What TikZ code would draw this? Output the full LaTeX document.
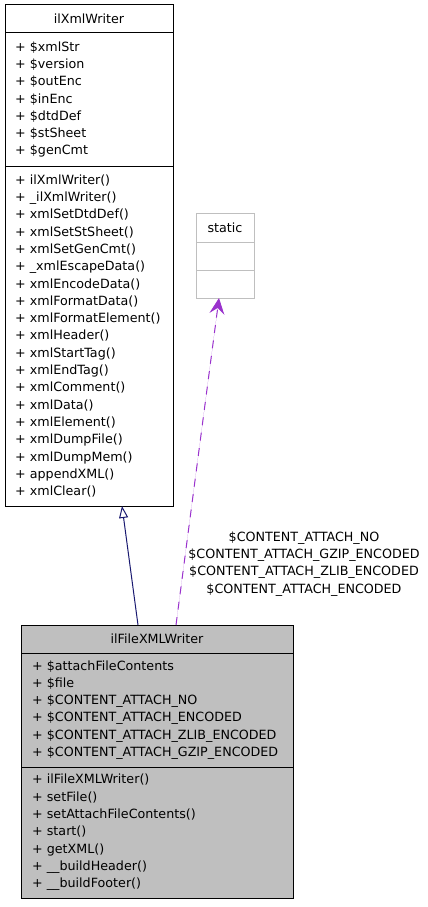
\documentclass[tikz,border=0pt]{standalone}
\usepackage{fontspec}
\setmainfont{DejaVu Sans}
\usepackage{tikz}
\usetikzlibrary{arrows.meta, positioning}
\usepackage{xcolor}
\definecolor{edgeblue}{HTML}{191970}
\definecolor{edgepurple}{HTML}{9A32CD}
\definecolor{classgray}{HTML}{BFBFBF}
\hyphenpenalty=10000
\exhyphenpenalty=10000

\begin{document}
\begin{tikzpicture}[x=1pt, y=-1pt,
    every node/.style={font=\fontsize{12.7}{17.3}\selectfont, inner sep=0pt, outer sep=0pt},
    cls/.style={draw=black, line width=1pt, fill=white},
    members/.style={cls, align=left, text width=#1},
    faint/.style={draw=classgray, line width=1pt, fill=white},
    inherit/.style={draw=edgeblue, line width=1pt, -{Triangle[open, length=12pt, width=9pt, fill=white]}},
    usage/.style={draw=edgepurple, line width=1pt, dash pattern=on 8pt off 7.5pt, -{Stealth[length=16pt, width=15pt, inset=6pt]}, fill=edgepurple}]
        \useasboundingbox (0,0) rectangle (428,907);
        % Base class
        \node[cls, minimum width=168, minimum height=28] (writer) at (89,19) {ilXmlWriter};
        \node[members=148pt, inner xsep=10pt, minimum height=133, below=0pt of writer] (writerattr) {+ \$xmlStr\\+ \$version\\+ \$outEnc\\+ \$inEnc\\+ \$dtdDef\\+ \$stSheet\\+ \$genCmt};
        \node[members=148pt, inner xsep=10pt, minimum height=340, below=0pt of writerattr] (writerops) {+ ilXmlWriter()\\+ \_ilXmlWriter()\\+ xmlSetDtdDef()\\+ xmlSetStSheet()\\+ xmlSetGenCmt()\\+ \_xmlEscapeData()\\+ xmlEncodeData()\\+ xmlFormatData()\\+ xmlFormatElement()\\+ xmlHeader()\\+ xmlStartTag()\\+ xmlEndTag()\\+ xmlComment()\\+ xmlData()\\+ xmlElement()\\+ xmlDumpFile()\\+ xmlDumpMem()\\+ appendXML()\\+ xmlClear()};
        % static box
        \node[faint, minimum width=58, minimum height=29] (static) at (225,227.5) {static};
        \node[faint, minimum width=58, minimum height=28, below=0pt of static] (staticattr) {};
        \node[faint, minimum width=58, minimum height=28, below=0pt of staticattr] (staticops) {};
        % Derived class
        \node[cls, fill=classgray, minimum width=272, minimum height=28] (filewriter) at (157,639) {ilFileXMLWriter};
        \node[members=250pt, inner xsep=11pt, fill=classgray, minimum height=114, below=0pt of filewriter] (fileattr) {+ \$attachFileContents\\+ \$file\\+ \$CONTENT\_ATTACH\_NO\\+ \$CONTENT\_ATTACH\_ENCODED\\+ \$CONTENT\_ATTACH\_ZLIB\_ENCODED\\+ \$CONTENT\_ATTACH\_GZIP\_ENCODED};
        \node[members=250pt, inner xsep=11pt, fill=classgray, minimum height=131, below=0pt of fileattr] (fileops) {+ ilFileXMLWriter()\\+ setFile()\\+ setAttachFileContents()\\+ start()\\+ getXML()\\+ \_\_buildHeader()\\+ \_\_buildFooter()};
        % Edges
        \draw[inherit] ([xshift=-19pt]filewriter.north) -- ([xshift=33pt]writerops.south);
        \draw[usage] ([xshift=19pt]filewriter.north) -- ([xshift=-6pt]staticops.south);
        \node[align=center] (uselabel) at (304,564) {\$CONTENT\_ATTACH\_NO\\\$CONTENT\_ATTACH\_GZIP\_ENCODED\\\$CONTENT\_ATTACH\_ZLIB\_ENCODED\\\$CONTENT\_ATTACH\_ENCODED};
    \end{tikzpicture}
\end{document}
